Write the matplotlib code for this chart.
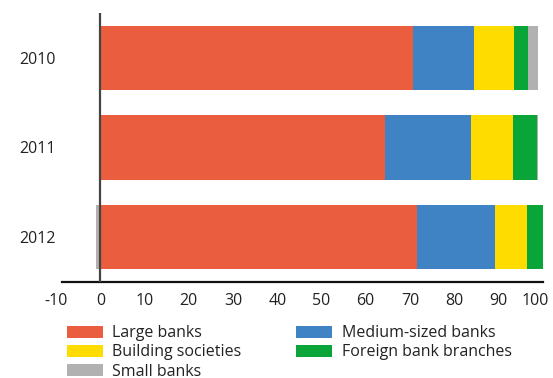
#!/usr/bin/env python3
"""Share of lending by bank type, stacked horizontal bars per year."""

import matplotlib
matplotlib.use('Agg')
import matplotlib.pyplot as plt
import matplotlib.transforms as mtransforms
import numpy as np

plt.rcParams['font.family'] = ['Open Sans', 'DejaVu Sans']

years = ['2010', '2011', '2012']
large_banks = [70.7, 64.4, 71.6]
medium_banks = [13.8, 19.3, 17.7]
building_societies = [9.0, 9.5, 7.2]
foreign_branches = [3.2, 5.6, 3.5]
small_banks = [2.2, 0.2, -0.9]
x_ticks = [-10, 0, 10, 20, 30, 40, 50, 60, 70, 80, 90, 100]

series = [
    ('Large banks', large_banks, '#EA5D3F'),
    ('Medium-sized banks', medium_banks, '#3F83C4'),
    ('Building societies', building_societies, '#FFDC00'),
    ('Foreign bank branches', foreign_branches, '#0AA538'),
    ('Small banks', small_banks, '#B1B1B1'),
]

TEXT = '#222222'

fig = plt.figure(figsize=(5.53, 3.78), dpi=100)
ax = fig.add_axes([0.1016, 0.254, 0.8812, 0.7116])

ypos = np.arange(len(years))
pos_left = np.zeros(len(years))
neg_left = np.zeros(len(years))
for label, vals, color in series:
    vals = np.array(vals, dtype=float)
    left = np.where(vals >= 0, pos_left, neg_left)
    ax.barh(ypos, vals, left=left, height=0.72, color=color, label=label,
            linewidth=0)
    pos_left += np.where(vals >= 0, vals, 0)
    neg_left += np.where(vals < 0, vals, 0)

ax.set_xlim(-10, 100.2)
ax.set_ylim(2.5, -0.5)
ax.axvline(0, color='#444444', linewidth=1.6, zorder=3)

ax.set_yticks(ypos)
ax.set_yticklabels(years)
ax.set_xticks(x_ticks)
ax.set_xticklabels([str(t) for t in x_ticks])  # plain hyphen for -10

for side in ('top', 'right', 'left'):
    ax.spines[side].set_visible(False)
ax.spines['bottom'].set_bounds(-8.7, 100.2)
ax.spines['bottom'].set_linewidth(1.6)
ax.spines['bottom'].set_color('#111111')

ax.tick_params(axis='both', length=0, labelsize=11.5, colors=TEXT)
ax.tick_params(axis='x', pad=8)
ax.tick_params(axis='y', pad=0)

# keep the last tick label inside the figure
last = ax.get_xticklabels()[-1]
last.set_transform(last.get_transform() +
                   mtransforms.ScaledTranslation(-5 / 72, 0, fig.dpi_scale_trans))

handles, labels = ax.get_legend_handles_labels()
order = [0, 2, 4, 1, 3]
fig.legend([handles[i] for i in order], [labels[i] for i in order],
           loc='upper left', bbox_to_anchor=(0.121, 0.139), ncol=2,
           frameon=False, fontsize=11.5, handlelength=2.25,
           handleheight=0.75, handletextpad=0.6, labelspacing=0.19,
           columnspacing=3.4, borderaxespad=0, borderpad=0,
           labelcolor=TEXT)

fig.savefig('out.png', dpi=100)
plt.close(fig)
